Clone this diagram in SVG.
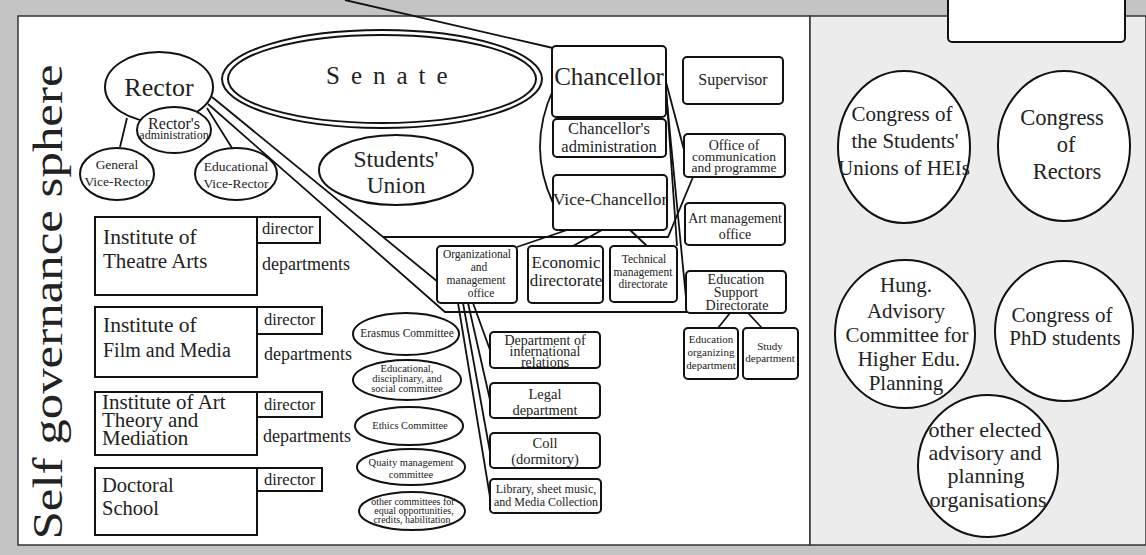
<svg xmlns="http://www.w3.org/2000/svg" width="1146" height="555" viewBox="0 0 1146 555" font-family="'Liberation Serif', 'DejaVu Serif', serif">
  <style>
    text { font-family: 'Liberation Serif', 'DejaVu Serif', serif; fill: #222; }
    .c { text-anchor: middle; }
    .shape { fill: #fff; stroke: #111; stroke-width: 2; }
    .line { fill: none; stroke: #111; stroke-width: 1.8; }
  </style>

  <!-- frame -->
  <rect x="0" y="0" width="1146" height="555" fill="#c4c4c4"/>
  <rect x="18" y="16" width="792" height="529" fill="#fff" stroke="#333" stroke-width="1.5"/>
  <rect x="810" y="16" width="336" height="529" fill="#ececec" stroke="#333" stroke-width="1.5"/>
  <rect id="top-box" x="948" y="-10" width="177" height="52" rx="4" class="shape"/>

  <text x="62" y="302" font-size="42" text-anchor="middle" transform="rotate(-90 62 302)" textLength="475" lengthAdjust="spacingAndGlyphs">Self governance sphere</text>

  <!-- connectors -->
  <g id="connectors" class="line">
    <path d="M345 0 L553 48"/>
    <path d="M127 118 L120 147"/>
    <path d="M207 108 L232 148"/>
    <path d="M212 97 L438 282"/>
    <path d="M208 104 L445 312 L687 312"/>
    <path d="M383 237 L668 237 L693 177"/>
    <path d="M553 90 Q527 147 553 203"/>
    <path d="M567 230 L517 247"/>
    <path d="M602 230 L573 246"/>
    <path d="M630 230 L647 246"/>
    <path d="M666 82 L684 150"/>
    <path d="M666 88 L677 246"/>
    <path d="M666 92 L686 298"/>
    <path d="M730 313 L718 328"/>
    <path d="M748 313 L762 328"/>
    <path d="M473 303 L490 350"/>
    <path d="M468 303 L490 400"/>
    <path d="M463 303 L490 452"/>
    <path d="M458 303 L490 497"/>
  </g>

  <!-- rector group -->
  <g id="rector">
    <ellipse cx="159" cy="87" rx="54" ry="35" class="shape"/>
    <text x="159" y="96" font-size="26" class="c">Rector</text>
  </g>
  <g id="rectors-administration">
    <ellipse cx="174" cy="130" rx="37" ry="23" class="shape"/>
    <text x="174" y="129" font-size="16" class="c">Rector's</text>
    <text x="174" y="139" font-size="12" class="c">administration</text>
  </g>
  <g id="general-vice-rector">
    <ellipse cx="117" cy="174" rx="37" ry="26" class="shape"/>
    <text x="117" y="169" font-size="13.5" class="c">General</text>
    <text x="117" y="186" font-size="13.5" class="c">Vice-Rector</text>
  </g>
  <g id="educational-vice-rector">
    <ellipse cx="236" cy="174" rx="41" ry="26" class="shape"/>
    <text x="236" y="171" font-size="13.5" class="c">Educational</text>
    <text x="236" y="188" font-size="13.5" class="c">Vice-Rector</text>
  </g>

  <g id="senate">
    <ellipse cx="382" cy="79" rx="160" ry="49" class="shape"/>
    <ellipse cx="382" cy="79" rx="154" ry="44" class="shape"/>
    <text x="326" y="84" font-size="25" letter-spacing="11">Senate</text>
  </g>
  <g id="students-union">
    <ellipse cx="396" cy="170" rx="77" ry="35" class="shape"/>
    <text x="396" y="167" font-size="23.5" class="c">Students'</text>
    <text x="396" y="193" font-size="23.5" class="c">Union</text>
  </g>

  <!-- chancellor column -->
  <g id="chancellor">
    <rect x="552" y="46" width="114" height="71" rx="4" class="shape"/>
    <text x="609" y="85" font-size="25" class="c">Chancellor</text>
  </g>
  <g id="chancellors-administration">
    <rect x="553" y="119" width="113" height="38" rx="4" class="shape"/>
    <text x="609" y="134" font-size="16.5" class="c">Chancellor's</text>
    <text x="609" y="152" font-size="16.5" class="c">administration</text>
  </g>
  <g id="vice-chancellor">
    <rect x="553" y="175" width="114" height="55" rx="4" class="shape"/>
    <text x="610" y="205" font-size="17.5" class="c">Vice-Chancellor</text>
  </g>
  <g id="supervisor">
    <rect x="683" y="57" width="100" height="47" rx="4" class="shape"/>
    <text x="733" y="85" font-size="16" class="c">Supervisor</text>
  </g>
  <g id="office-communication">
    <rect x="684" y="134" width="101" height="43" rx="4" class="shape"/>
    <text x="734" y="150" font-size="14" class="c">Office of</text>
    <text x="734" y="161" font-size="13.5" class="c">communication</text>
    <text x="734" y="172" font-size="13.5" class="c">and programme</text>
  </g>
  <g id="art-management">
    <rect x="685" y="203" width="100" height="42" rx="4" class="shape"/>
    <text x="735" y="223" font-size="14" class="c">Art management</text>
    <text x="735" y="239" font-size="14" class="c">office</text>
  </g>

  <g id="organizational-office">
    <rect x="437" y="246" width="80" height="57" rx="4" class="shape"/>
    <text x="477" y="258" font-size="11.5" class="c">Organizational</text>
    <text x="479" y="271" font-size="11.5" class="c">and</text>
    <text x="476" y="284" font-size="11.5" class="c">management</text>
    <text x="481" y="297" font-size="11.5" class="c">office</text>
  </g>
  <g id="economic-directorate">
    <rect x="528" y="246" width="75" height="57" rx="4" class="shape"/>
    <text x="566" y="268" font-size="17" class="c">Economic</text>
    <text x="566" y="286" font-size="17" class="c">directorate</text>
  </g>
  <g id="technical-directorate">
    <rect x="610" y="246" width="67" height="56" rx="4" class="shape"/>
    <text x="644" y="263" font-size="11.5" class="c">Technical</text>
    <text x="643" y="276" font-size="11.5" class="c">management</text>
    <text x="643" y="288" font-size="11.5" class="c">directorate</text>
  </g>
  <g id="education-support">
    <rect x="686" y="271" width="100" height="42" rx="4" class="shape"/>
    <text x="736" y="284" font-size="14" class="c">Education</text>
    <text x="736" y="297" font-size="14" class="c">Support</text>
    <text x="737" y="310" font-size="14" class="c">Directorate</text>
  </g>
  <g id="education-organizing">
    <rect x="684" y="328" width="54" height="51" rx="4" class="shape"/>
    <text x="711" y="343" font-size="11" class="c">Education</text>
    <text x="711" y="356" font-size="11" class="c">organizing</text>
    <text x="711" y="369" font-size="11" class="c">department</text>
  </g>
  <g id="study-department">
    <rect x="743" y="328" width="55" height="51" rx="4" class="shape"/>
    <text x="770" y="350" font-size="11" class="c">Study</text>
    <text x="770" y="362" font-size="11" class="c">department</text>
  </g>

  <g id="international-relations">
    <rect x="490" y="332" width="110" height="36" rx="4" fill="#fff"/>
    <text x="545" y="345" font-size="14" class="c">Department of</text>
    <text x="545" y="356" font-size="14" class="c">international</text>
    <text x="545" y="367" font-size="14" class="c">relations</text>
    <rect x="490" y="332" width="110" height="36" rx="4" fill="none" stroke="#111" stroke-width="2"/>
  </g>
  <g id="legal-department">
    <rect x="490" y="383" width="110" height="35" rx="4" class="shape"/>
    <text x="545" y="399" font-size="14.5" class="c">Legal</text>
    <text x="545" y="415" font-size="14.5" class="c">department</text>
  </g>
  <g id="coll">
    <rect x="490" y="433" width="110" height="35" rx="4" class="shape"/>
    <text x="545" y="448" font-size="14.5" class="c">Coll</text>
    <text x="545" y="464" font-size="14.5" class="c">(dormitory)</text>
  </g>
  <g id="library">
    <rect x="490" y="479" width="111" height="34" rx="4" class="shape"/>
    <text x="546" y="493" font-size="12" class="c">Library, sheet music,</text>
    <text x="546" y="506" font-size="12" class="c">and Media Collection</text>
  </g>

  <!-- committees -->
  <g id="erasmus-committee">
    <ellipse cx="406" cy="334" rx="53" ry="21" class="shape"/>
    <text x="407" y="337" font-size="11.5" class="c">Erasmus Committee</text>
  </g>
  <g id="disciplinary-committee">
    <ellipse cx="407" cy="380" rx="54" ry="20" class="shape"/>
    <text x="407" y="372" font-size="10.5" class="c">Educational,</text>
    <text x="407" y="382" font-size="10.5" class="c">disciplinary, and</text>
    <text x="407" y="392" font-size="10.5" class="c">social committee</text>
  </g>
  <g id="ethics-committee">
    <ellipse cx="409" cy="426" rx="54" ry="19" class="shape"/>
    <text x="410" y="429" font-size="10.5" class="c">Ethics Committee</text>
  </g>
  <g id="quality-committee">
    <ellipse cx="411" cy="467" rx="54" ry="18" class="shape"/>
    <text x="411" y="466" font-size="10.5" class="c">Quaity management</text>
    <text x="411" y="478" font-size="10.5" class="c">committee</text>
  </g>
  <g id="other-committees">
    <ellipse cx="412" cy="511" rx="53" ry="19" class="shape"/>
    <text x="413" y="505" font-size="10" class="c">other committees for</text>
    <text x="414" y="514" font-size="10" class="c">equal opportunities,</text>
    <text x="412" y="523" font-size="10" class="c">credits, habilitation</text>
  </g>

  <!-- institutes -->
  <g id="theatre-arts">
    <rect x="95" y="217" width="162" height="78" class="shape"/>
    <rect x="257" y="217" width="63" height="26" class="shape"/>
    <text x="103" y="244" font-size="21.5">Institute of</text>
    <text x="103" y="268" font-size="21">Theatre Arts</text>
    <text x="262" y="234" font-size="16.5">director</text>
    <text x="262" y="270" font-size="18">departments</text>
  </g>
  <g id="film-media">
    <rect x="95" y="307" width="162" height="70" class="shape"/>
    <rect x="257" y="307" width="65" height="27" class="shape"/>
    <text x="103" y="332" font-size="21.5">Institute of</text>
    <text x="103" y="357" font-size="20">Film and Media</text>
    <text x="264" y="325" font-size="16.5">director</text>
    <text x="264" y="360" font-size="18">departments</text>
  </g>
  <g id="art-theory">
    <rect x="95" y="392" width="162" height="63" class="shape"/>
    <rect x="257" y="392" width="65" height="25" class="shape"/>
    <text x="102" y="409" font-size="21">Institute of Art</text>
    <text x="102" y="427" font-size="21">Theory and</text>
    <text x="102" y="445" font-size="21">Mediation</text>
    <text x="264" y="410" font-size="16.5">director</text>
    <text x="263" y="442" font-size="18">departments</text>
  </g>
  <g id="doctoral-school">
    <rect x="95" y="468" width="162" height="67" class="shape"/>
    <rect x="257" y="468" width="65" height="23" class="shape"/>
    <text x="102" y="492" font-size="20.5">Doctoral</text>
    <text x="102" y="515" font-size="20.5">School</text>
    <text x="264" y="485" font-size="16.5">director</text>
  </g>

  <!-- national bodies -->
  <g id="congress-students-unions">
    <ellipse cx="904" cy="147" rx="66" ry="76" class="shape"/>
    <text x="902" y="121" font-size="21" class="c">Congress of</text>
    <text x="905" y="148" font-size="21" class="c">the Students'</text>
    <text x="904" y="175" font-size="21" class="c">Unions of HEIs</text>
  </g>
  <g id="congress-rectors">
    <ellipse cx="1064" cy="146" rx="66" ry="75" class="shape"/>
    <text x="1062" y="125" font-size="22.5" class="c">Congress</text>
    <text x="1066" y="152" font-size="22.5" class="c">of</text>
    <text x="1067" y="179" font-size="22.5" class="c">Rectors</text>
  </g>
  <g id="advisory-committee">
    <ellipse cx="905" cy="334" rx="70" ry="74" class="shape"/>
    <text x="906" y="292" font-size="21" class="c">Hung.</text>
    <text x="906" y="318" font-size="21" class="c">Advisory</text>
    <text x="907" y="342" font-size="21" class="c">Committee for</text>
    <text x="909" y="366" font-size="21" class="c">Higher Edu.</text>
    <text x="906" y="390" font-size="21" class="c">Planning</text>
  </g>
  <g id="congress-phd">
    <ellipse cx="1064" cy="331" rx="69" ry="70" class="shape"/>
    <text x="1062" y="322" font-size="21" class="c">Congress of</text>
    <text x="1065" y="345" font-size="21" class="c">PhD students</text>
  </g>
  <g id="other-organisations">
    <ellipse cx="988" cy="466" rx="70" ry="71" class="shape"/>
    <text x="985" y="437" font-size="22" class="c">other elected</text>
    <text x="985" y="460" font-size="22" class="c">advisory and</text>
    <text x="986" y="483" font-size="22" class="c">planning</text>
    <text x="988" y="507" font-size="22" class="c">organisations</text>
  </g>
</svg>
